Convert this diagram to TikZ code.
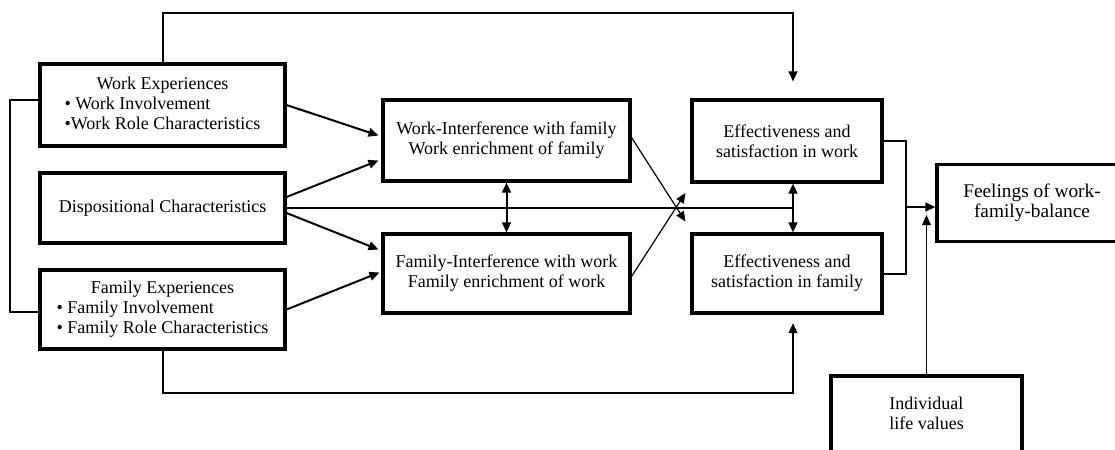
\documentclass[tikz,border=0pt]{standalone}
\usepackage{fontspec}
\setmainfont{Liberation Serif}
\usetikzlibrary{arrows.meta,calc}
\begin{document}
\begin{tikzpicture}[x=0.75pt,y=-0.75pt,
  box/.style={draw,line width=2.3pt,rectangle,inner sep=2pt,align=center,
    font=\fontsize{13.5}{15}\selectfont},
  conn/.style={line width=1.5pt},
  thin/.style={line width=0.9pt},
  arr/.style={-{Triangle[length=7.5pt,width=6.5pt]}},
  darr/.style={{Triangle[length=7.5pt,width=6.5pt]}-{Triangle[length=7.5pt,width=6.5pt]}}]
\useasboundingbox (0,0) rectangle (1115,450);
\clip (0,0) rectangle (1115,450);

% left column
\node[box,minimum width=183.75pt,minimum height=61.5pt] (we) at (162.5,105)
  {\begin{tabular}{@{}l@{}}\multicolumn{1}{@{}c@{}}{Work Experiences}\\
   \textbullet{} Work Involvement\\ \textbullet Work Role Characteristics\end{tabular}};
\node[box,minimum width=183.75pt,minimum height=52.5pt] (dc) at (162.5,208)
  {Dispositional Characteristics};
\node[box,minimum width=183.75pt,minimum height=59.25pt] (fe) at (162.5,309.5)
  {\begin{tabular}{@{}l@{}}\multicolumn{1}{@{}c@{}}{Family Experiences}\\
   \textbullet{} Family Involvement\\ \textbullet{} Family Role Characteristics\end{tabular}};

% middle column
\node[box,minimum width=185.25pt,minimum height=60.75pt] (wif) at (506.5,140.5)
  {Work-Interference with family\\ Work enrichment of family};
\node[box,minimum width=185.25pt,minimum height=59.25pt] (fiw) at (506.5,273.5)
  {Family-Interference with work\\ Family enrichment of work};

% outcome column
\node[box,minimum width=142.5pt,minimum height=61.5pt] (ew) at (787,141)
  {Effectiveness and\\ satisfaction in work};
\node[box,minimum width=142.5pt,minimum height=59.25pt] (ef) at (787,273.5)
  {Effectiveness and\\ satisfaction in family};

% balance and values
\node[box,minimum width=142.5pt,minimum height=57.75pt,
  font=\fontsize{14.5}{15}\selectfont] (fb) at (1032,203)
  {Feelings of work-\\ family-balance};
\node[box,minimum width=143.25pt,minimum height=70.5pt,align=left] (lv) at (926.5,423)
  {Individual\\ life values\\ \mbox{}};

\coordinate (top) at (162.5,13);
\coordinate (bot) at (162.5,393);
\coordinate (axis) at (793,208);
\coordinate (jn) at (906,207);

% feedback lines around the model
\draw[conn] ([yshift=3.75pt]we.west) -- ++(-28,0) |- ([yshift=-2pt]fe.west);
\draw[conn,arr,shorten >=12.75pt] (we.north) |- (top -| axis) -- (axis |- ew.north);
\draw[conn,arr,shorten >=6.5pt] (fe.south) |- (bot -| axis) -- (axis |- ef.south);

% antecedents to interference / enrichment
\draw[conn,arr] (we.east) -- ($(wif.west)+(-3,-5)$);
\draw[conn,arr] ($(dc.east)+(0,-11)$) -- ($(wif.west)+(-3,20)$);
\draw[conn,arr] ($(dc.east)+(0,5)$) -- ($(fiw.west)+(-3,-24)$);
\draw[conn,arr] (fe.east) -- ($(fiw.west)+(-2,-1)$);
\draw[conn,darr] (wif.south) -- (fiw.north);

% crossover paths
\draw[thin,arr] ($(wif.east)+(0,-3)$) -- ($(ef.west)+(-5,-52)$);
\draw[thin,arr] ($(fiw.east)+(0,3)$) -- ($(ew.west)+(-5,52)$);
\draw[thin] (dc.east) -- (axis);
\draw[conn,darr] (axis |- ew.south) -- (axis |- ef.north);

% outcomes to balance
\draw[conn] (ew.east) -| (jn) |- (ef.east);
\draw[conn,arr] (jn) -- (fb.west |- jn);
\draw[thin,arr] (lv.north) -- (lv.north |- 0,215);
\end{tikzpicture}
\end{document}
